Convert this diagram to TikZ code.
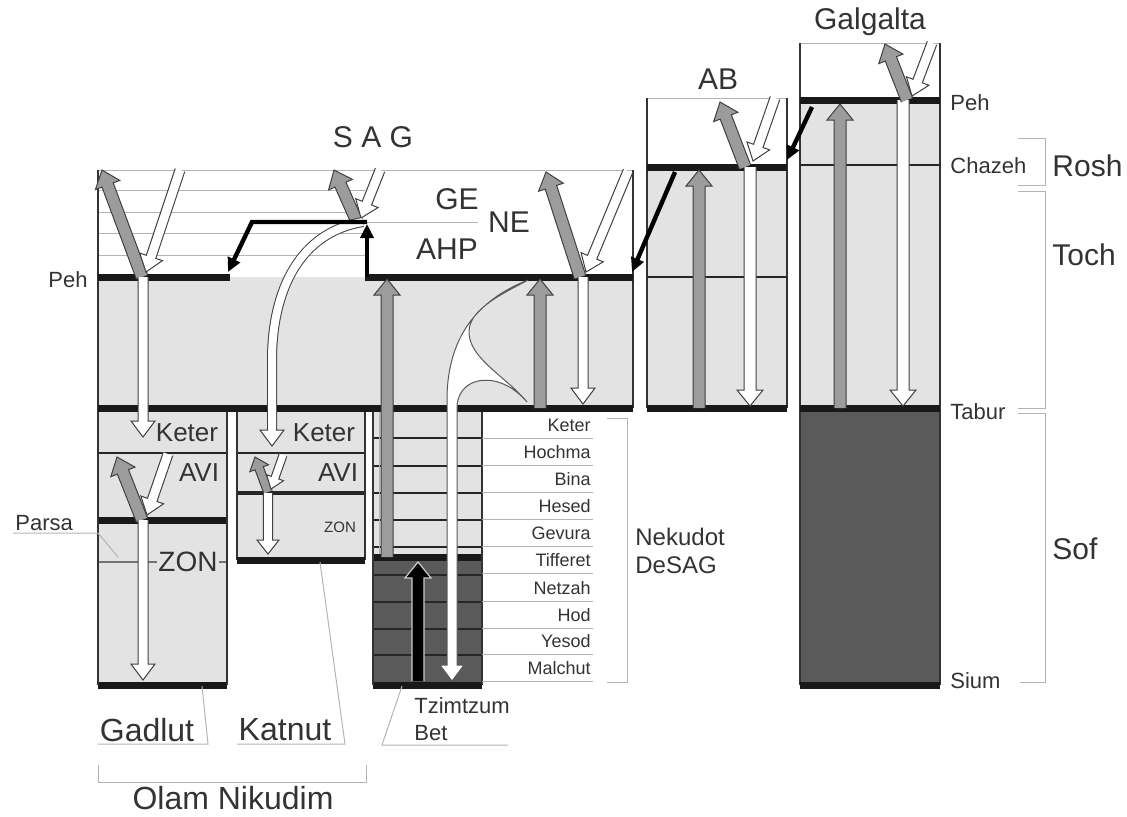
\documentclass[tikz,border=0pt]{standalone}
\usepackage{fontspec}
\setmainfont{Liberation Sans}
\usetikzlibrary{arrows.meta, calc}
\definecolor{grisClaro}{HTML}{E3E3E3}
\definecolor{grisOscuro}{HTML}{5A5A5A}
\definecolor{grisFlecha}{HTML}{9C9C9C}
\definecolor{grisLinea}{HTML}{B4B4B4}
\definecolor{tinta}{HTML}{333333}

% block arrow: style, from, to, half shaft, half head, head length
\newcommand\blockarrow[6]{%
  \coordinate (ba-n) at ($(#3)!#6!(#2)$);
  \filldraw[#1] ($(#2)!#4!90:(#3)$) -- ($(ba-n)!#4!90:(#3)$) -- ($(ba-n)!#5!90:(#3)$)
    -- (#3) -- ($(ba-n)!#5!-90:(#3)$) -- ($(ba-n)!#4!-90:(#3)$) -- ($(#2)!#4!-90:(#3)$);
}

\begin{document}
\begin{tikzpicture}[
        x=0.5pt, y=-0.5pt,
        fino/.style={grisLinea, line width=0.5pt},
        medio/.style={black!85, line width=1.2pt},
        grueso/.style={black!90, line width=3.5pt},
        borde/.style={tinta, line width=1.3pt},
        garr/.style={fill=grisFlecha, draw=black!75, line width=0.5pt},
        warr/.style={fill=white, draw=black!75, line width=0.5pt},
        karr/.style={fill=black, draw=black!20, line width=0.6pt},
        blk/.style={black, line width=2.2pt, -{Triangle[length=7pt,width=6.5pt]}},
        wline/.style={draw=black!75, double=white, double distance=4pt, line width=0.5pt},
        etiq/.style={text=tinta, font=\fontsize{11}{13}\selectfont, inner sep=1pt},
        sefira/.style={text=tinta, font=\fontsize{9}{11}\selectfont, inner sep=1pt, anchor=east},
        medi/.style={text=tinta, font=\fontsize{13}{15}\selectfont, inner sep=1pt},
        grande/.style={text=tinta, font=\fontsize{15}{18}\selectfont, inner sep=1pt},
        titulo/.style={text=tinta, font=\fontsize{16}{19}\selectfont, inner sep=1pt}
    ]
    \useasboundingbox (0,0) rectangle (1127,816);

    % Galgalta
    \fill[grisClaro] (800,100) rectangle (940,408);
    \fill[grisOscuro] (800,408) rectangle (940,685);
    \draw[fino] (800,43) -- (940,43);
    \draw[borde] (800,43) -- (800,685) (940,43) -- (940,685);
    \draw[medio] (800,165) -- (940,165);
    \draw[grueso] (800,100) -- (940,100) (800,408) -- (940,408) (800,685) -- (940,685);

    % AB
    \fill[grisClaro] (647,167) rectangle (787,408);
    \draw[fino] (647,98) -- (787,98);
    \draw[borde] (647,98) -- (647,408) (787,98) -- (787,408);
    \draw[medio] (647,277) -- (787,277);
    \draw[grueso] (647,167) -- (787,167) (647,408) -- (787,408);

    % SAG
    \fill[grisClaro] (98,277) rectangle (633,408);
    \foreach \y in {190,212,233,255}
        \draw[fino] (98,\y) -- (365,\y);
    \draw[fino] (365,222) -- (478,222);
    \draw[fino] (98,170) -- (633,170);

    % Gadlut
    \fill[grisClaro] (98,408) rectangle (227,685);
    \draw[medio] (98,453) -- (227,453);
    \draw[fino, black!55, line width=0.8pt] (98,562) -- (227,562);
    \draw[grueso] (98,520) -- (227,520) (98,685) -- (227,685);
    \draw[borde] (227,408) -- (227,685);

    % Katnut
    \fill[grisClaro] (237,408) rectangle (365,560);
    \draw[medio] (237,453) -- (365,453);
    \draw[medio, line width=1.6pt] (237,493) -- (365,493);
    \draw[borde] (237,408) -- (237,560) (365,408) -- (365,560);
    \draw[grueso] (237,560) -- (365,560);

    % Nekudot
    \fill[grisClaro] (373,408) rectangle (482,557);
    \fill[grisOscuro] (373,557) rectangle (482,685);
    \foreach \y in {438,466,493,520,547,575,602,629,655}
        \draw[medio] (373,\y) -- (482,\y);
    \draw[fino] (379,408) -- (379,557);
    \draw[grueso] (373,557) -- (482,557) (373,685) -- (482,685);
    \draw[borde] (373,408) -- (373,685) (482,408) -- (482,685);
    \foreach \n/\y in {Keter/425,Hochma/452,Bina/479,Hesed/506,Gevura/533,
                        Tifferet/560,Netzah/588,Hod/615,Yesod/641,Malchut/668} {
        \node[sefira] (sef-\n) at (593,\y) {\n};
        \draw[fino] (482,\y+13) -- (593,\y+13);
    }
    \draw[fino] (607,418) -- (627,418) -- (627,682) -- (607,682);

    % SAG frame and lines
    \draw[borde] (98,170) -- (98,685) (633,170) -- (633,408);
    \draw[grueso] (98,277) -- (230,277) (365,277) -- (633,277) (98,408) -- (633,408);

    % brackets and leaders
    \draw[fino] (1018,138) -- (1045,138) -- (1045,185) -- (1018,185);
    \draw[fino] (1018,191) -- (1045,191) -- (1045,408) -- (1018,408);
    \draw[fino] (1018,413) -- (1045,413) -- (1045,682) -- (1020,682);
    \draw[fino] (13,533) -- (98,533) -- (118,557);
    \draw[fino] (98,744) -- (208,744) -- (202,686);
    \draw[fino] (237,744) -- (345,744) -- (320,562);
    \draw[fino] (508,745) -- (382,745) -- (402,686);
    \draw[fino] (98,765) -- (98,782) -- (366,782) -- (366,765);

    % Galgalta arrows
    \blockarrow{garr}{840,408}{840,104}{3pt}{6.5pt}{8pt}
    \blockarrow{warr}{903,100}{903,406}{3pt}{6.5pt}{8pt}
    \blockarrow{garr}{907,100}{885,44}{3pt}{6.5pt}{8pt}
    \blockarrow{warr}{932,43}{912,96}{2.5pt}{6pt}{8pt}
    % AB arrows
    \blockarrow{garr}{699,408}{699,170}{3pt}{6.5pt}{8pt}
    \blockarrow{warr}{750,167}{750,406}{3pt}{6.5pt}{8pt}
    \blockarrow{garr}{745,167}{720,102}{3pt}{6.5pt}{8pt}
    \blockarrow{warr}{775,98}{753,161}{2.5pt}{6pt}{8pt}
    % SAG arrows
    \blockarrow{garr}{142,277}{102,170}{3pt}{6.5pt}{8pt}
    \blockarrow{warr}{180,170}{146,272}{2.5pt}{6pt}{8pt}
    \blockarrow{warr}{143,277}{143,437}{2.5pt}{6pt}{8pt}
    \blockarrow{garr}{357,222}{334,170}{3pt}{6.5pt}{8pt}
    \blockarrow{warr}{380,170}{361,218}{2.5pt}{6pt}{8pt}
    \blockarrow{garr}{580,277}{546,172}{3pt}{6.5pt}{8pt}
    \blockarrow{warr}{628,171}{586,272}{2.5pt}{6pt}{8pt}
    \blockarrow{warr}{583,277}{583,404}{2.5pt}{6pt}{8pt}
    \blockarrow{garr}{540,408}{540,279}{3pt}{6.5pt}{8pt}
    \blockarrow{garr}{387,557}{387,279}{3pt}{6.5pt}{8pt}
    % Gadlut and Katnut arrows
    \blockarrow{garr}{142,520}{117,457}{3pt}{6.5pt}{8pt}
    \blockarrow{warr}{168,454}{147,515}{2.5pt}{6pt}{8pt}
    \blockarrow{warr}{143,520}{143,680}{2.5pt}{6pt}{8pt}
    \blockarrow{garr}{268,492}{255,457}{2.2pt}{5pt}{6pt}
    \blockarrow{warr}{283,455}{271,489}{2pt}{4.5pt}{6pt}
    \blockarrow{warr}{268,493}{268,554}{2.3pt}{5.5pt}{7pt}
    % SAG to Katnut
    \draw[wline] (363,222) .. controls (300,232) and (272,290) .. (272,360) -- (272,431);
    \blockarrow{warr}{272,429}{272,446}{2.25pt}{6pt}{8pt}
    % Tzimtzum Bet
    \filldraw[fill=white, draw=black!65, line width=0.5pt]
        (528,280) .. controls (485,297) and (447,330) .. (447,400) -- (447,665)
        -- (440,665) -- (452,681) -- (464,665) -- (457,665) -- (457,405)
        .. controls (460,375) and (500,370) .. (527,402)
        .. controls (505,375) and (462,355) .. (470,325)
        .. controls (476,305) and (510,290) .. (528,280) -- cycle;
    \blockarrow{karr}{418,681}{418,562}{3pt}{6.5pt}{8pt}

    % black arrows
    \coordinate (galgaltaPeh) at (812,107);
    \coordinate (abChazeh) at (787,160);
    \coordinate (abPeh) at (675,172);
    \coordinate (sagPeh) at (632,272);
    \coordinate (ahpTop) at (367,222);
    \coordinate (ahpBot) at (367,277);
    \coordinate (sagParsa) at (228,272);
    \draw[blk] (galgaltaPeh) -- (abChazeh);
    \draw[blk] (abPeh) -- (sagPeh);
    \draw[blk] (ahpTop) -- (252,222) -- (sagParsa);
    \draw[blk] (ahpBot) -- ([yshift=-1pt]ahpTop);

    % labels
    \node[grande] (galgalta) at (870,22) {Galgalta};
    \node[grande] (ab) at (718,79) {AB};
    \node[grande] (sag) at (373,137) {S A G};
    \node[grande] (ge) at (457,199) {GE};
    \node[grande] (ne) at (509,222) {NE};
    \node[grande] (ahp) at (447,249) {AHP};
    \node[etiq, anchor=east] (pehL) at (90,280) {Peh};
    \node[etiq, anchor=west] (parsa) at (13,523) {Parsa};
    \node[etiq, anchor=west] (pehR) at (948,103) {Peh};
    \node[etiq, anchor=west] (chazeh) at (948,166) {Chazeh};
    \node[etiq, anchor=west] (tabur) at (948,412) {Tabur};
    \node[etiq, anchor=west] (sium) at (948,681) {Sium};
    \node[grande, anchor=west] (rosh) at (1050,166) {Rosh};
    \node[grande, anchor=west] (toch) at (1050,255) {Toch};
    \node[grande, anchor=west] (sof) at (1050,549) {Sof};
    \node[medi] (keterG) at (187,433) {Keter};
    \node[medi] (aviG) at (199,473) {AVI};
    \node[medi, fill=grisClaro, inner sep=0.5pt, font=\fontsize{14}{16}\selectfont] (zonG) at (188,562) {ZON};
    \node[medi] (keterK) at (324,433) {Keter};
    \node[medi] (aviK) at (338,473) {AVI};
    \node[medi, font=\fontsize{7.5}{9}\selectfont] (zonK) at (340,527) {ZON};
    \node[etiq, anchor=west, align=left, font=\fontsize{12}{14}\selectfont] (nekudot) at (633,551) {Nekudot\\DeSAG};
    \node[etiq, anchor=west, align=left, font=\fontsize{11}{13.5}\selectfont] (tzimtzum) at (412,719) {Tzimtzum\\Bet};
    \node[titulo] (gadlut) at (147,730) {Gadlut};
    \node[titulo] (katnut) at (285,730) {Katnut};
    \node[titulo] (olam) at (233,798) {Olam Nikudim};
\end{tikzpicture}
\end{document}
